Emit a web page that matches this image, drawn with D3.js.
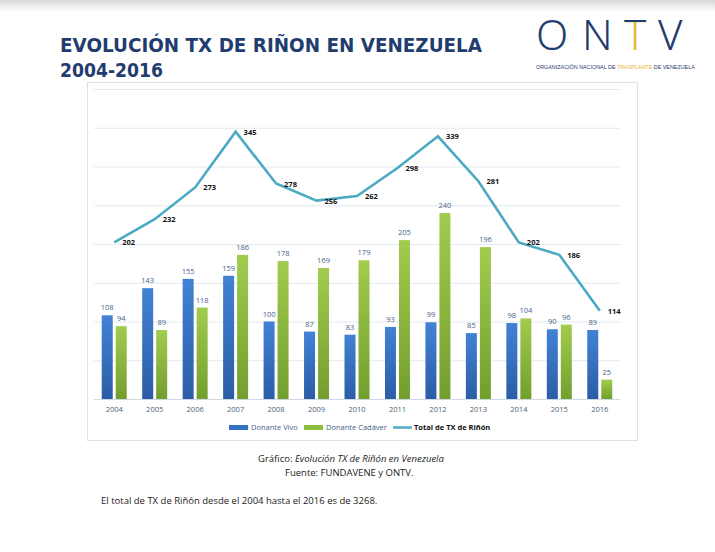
<!DOCTYPE html>
<html><head><meta charset="utf-8">
<script src="https://cdn.jsdelivr.net/npm/d3@7"></script>
<style>
body{margin:0;background:#fff;font-family:"Open Sans",sans-serif;}
</style></head>
<body>
<svg id="c" width="715" height="552"></svg>
<script>
const years = ['2004','2005','2006','2007','2008','2009','2010','2011','2012','2013','2014','2015','2016'];
const vivo = [108,143,155,159,100,87,83,93,99,85,98,90,89];
const cadaver = [94,89,118,186,178,169,179,205,240,196,104,96,25];
const total = [202,232,273,345,278,256,262,298,339,281,202,186,114];
const yTicks = [0,50,100,150,200,250,300,350,400];

const svg = d3.select('#c');
const defs = svg.append('defs');
function grad(id, a, b) {
  const g = defs.append('linearGradient').attr('id', id).attr('x1',0).attr('y1',0).attr('x2',0).attr('y2',1);
  g.append('stop').attr('offset','0%').attr('stop-color',a);
  g.append('stop').attr('offset','100%').attr('stop-color',b);
}
grad('gb', '#4282d4', '#2b5da6');
grad('gg', '#a2cc4e', '#729e2e');

// top shadow band
const sh = defs.append('linearGradient').attr('id','sh').attr('x1',0).attr('y1',0).attr('x2',0).attr('y2',1);
sh.append('stop').attr('offset','0%').attr('stop-color','#d8d8d8');
sh.append('stop').attr('offset','100%').attr('stop-color','#fff');
svg.append('rect').attr('width',715).attr('height',12).attr('fill','url(#sh)');

// title
svg.append('text').attr('x',60).attr('y',52).attr('fill','#1f3d6e')
  .attr('font-family','"DejaVu Sans"').attr('font-weight','bold').attr('font-size',19)
  .attr('textLength',422).attr('lengthAdjust','spacingAndGlyphs').text('EVOLUCIÓN TX DE RIÑON EN VENEZUELA');
svg.append('text').attr('x',60).attr('y',77).attr('fill','#1f3d6e')
  .attr('font-family','"DejaVu Sans"').attr('font-weight','bold').attr('font-size',19)
  .attr('textLength',103).attr('lengthAdjust','spacingAndGlyphs').text('2004-2016');

// logo: T has navy crossbar, yellow stem
const tg = defs.append('linearGradient').attr('id','tg').attr('x1',0).attr('y1',0).attr('x2',0).attr('y2',1);
tg.append('stop').attr('offset','0.3').attr('stop-color','#1f3d6e');
tg.append('stop').attr('offset','0.3').attr('stop-color','#e8b830');
const logo = svg.append('g').attr('font-family','"Noto Sans"').attr('font-size',42).attr('font-weight',300);
[['O',536,'#1f3d6e'],['N',582,'#1f3d6e'],['T',624,'url(#tg)'],['V',658,'#1f3d6e']].forEach(([c,lx,f]) => {
  logo.append('text').attr('x',lx).attr('y',50).attr('fill',f).text(c);
});
const lt = logo.append('text').attr('x',536).attr('y',69).attr('font-size',5.4).attr('font-weight',400)
  .attr('font-family','"Liberation Sans"').attr('fill','#1f3d6e');
lt.append('tspan').text('ORGANIZACIÓN NACIONAL DE ');
lt.append('tspan').attr('fill','#e8b830').text('TRASPLANTE');
lt.append('tspan').text(' DE VENEZUELA');

// frame
svg.append('rect').attr('x',87.5).attr('y',82.5).attr('width',550).attr('height',358)
  .attr('fill','#fff').attr('stroke','#dde3ea');

const x = d3.scaleBand().domain(years).range([94, 620]).paddingInner(0).paddingOuter(0);
const y = d3.scaleLinear().domain([0,400]).range([399, 89]);

svg.append('g').selectAll('line').data(yTicks).join('line')
  .attr('x1',94).attr('x2',620).attr('y1',d=>y(d)+0.5).attr('y2',d=>y(d)+0.5)
  .attr('stroke',d=>d===0?'#cfd8e2':'#e3e9f0').attr('stroke-width',1);

const bw = 11;
const g = svg.append('g');
years.forEach((yr,i) => {
  const cx = x(yr) + x.bandwidth()/2;
  g.append('rect').attr('x',cx-bw-1.5).attr('y',y(vivo[i])).attr('width',bw)
    .attr('height',y(0)-y(vivo[i])).attr('fill','url(#gb)');
  g.append('rect').attr('x',cx+1.5).attr('y',y(cadaver[i])).attr('width',bw)
    .attr('height',y(0)-y(cadaver[i])).attr('fill','url(#gg)');
  g.append('text').attr('x',cx-bw/2-1.5).attr('y',y(vivo[i])-5).attr('text-anchor','middle')
    .attr('font-size',7.5).attr('fill','#44618a').text(vivo[i]);
  g.append('text').attr('x',cx+bw/2+1.5).attr('y',y(cadaver[i])-5).attr('text-anchor','middle')
    .attr('font-size',7.5).attr('fill','#44618a').text(cadaver[i]);
  g.append('text').attr('x',cx).attr('y',412).attr('text-anchor','middle')
    .attr('font-size',7.5).attr('fill','#4a5f7a').text(yr);
});

const line = d3.line().x((d,i)=>x(years[i])+x.bandwidth()/2).y(d=>y(d));
svg.append('path').datum(total).attr('d',line).attr('fill','none')
  .attr('stroke','#4aaac4').attr('stroke-width',2.6);
svg.append('g').selectAll('text').data(total).join('text')
  .attr('x',(d,i)=>x(years[i])+x.bandwidth()/2+8).attr('y',d=>y(d)+3)
  .attr('font-size',7.5).attr('font-weight','bold').attr('fill','#111').text(d=>d);

// legend
const lg = svg.append('g').attr('font-size',7.5);
lg.append('rect').attr('x',229).attr('y',425).attr('width',19).attr('height',5).attr('fill','#3572c2');
lg.append('text').attr('x',251).attr('y',430).attr('fill','#44618a').text('Donante Vivo');
lg.append('rect').attr('x',304).attr('y',425).attr('width',19).attr('height',5).attr('fill','#8fbd40');
lg.append('text').attr('x',326).attr('y',430).attr('fill','#44618a').text('Donante Cadáver');
lg.append('line').attr('x1',393).attr('x2',412).attr('y1',427.5).attr('y2',427.5).attr('stroke','#4aaac4').attr('stroke-width',2.4);
lg.append('text').attr('x',414).attr('y',430).attr('fill','#111').attr('font-weight','bold').text('Total de TX de Riñón');

// captions
const cap = svg.append('g').attr('font-size',9.5).attr('fill','#222');
const c1 = cap.append('text').attr('x',258).attr('y',462);
c1.append('tspan').text('Gráfico: ');
c1.append('tspan').attr('font-style','italic').text('Evolución TX de Riñón en Venezuela');
cap.append('text').attr('x',285).attr('y',476).text('Fuente: FUNDAVENE y ONTV.');
cap.append('text').attr('x',101).attr('y',504).text('El total de TX de Riñón desde el 2004 hasta el 2016 es de 3268.');
</script>
</body></html>
